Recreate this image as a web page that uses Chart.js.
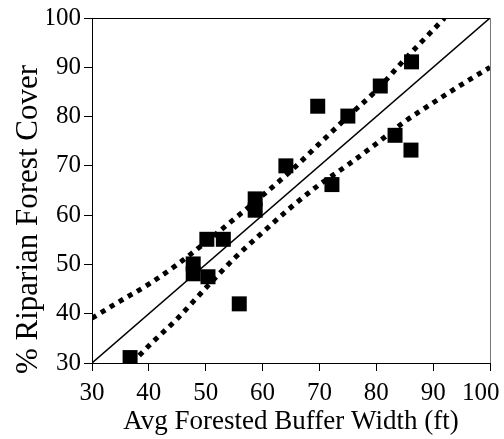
<!DOCTYPE html>
<html>
<head>
<meta charset="utf-8">
<script src="https://cdn.jsdelivr.net/npm/chart.js@4.4.1/dist/chart.umd.min.js"></script>
<style>
  html, body { margin: 0; padding: 0; background: #fff; }
</style>
</head>
<body>
<canvas id="chartBuffer" width="504" height="439"></canvas>
<script>
// datos
const bufferWidth = [36.7, 47.8, 47.8, 50.2, 50.4, 53.1, 55.9, 58.7, 58.7, 64.1, 69.7, 72.2, 75.0, 80.7, 83.3, 86.1, 86.2];
const forestCover = [31.1, 50.1, 48.1, 55.1, 47.5, 55.1, 42.0, 61.0, 63.3, 70.0, 82.1, 66.2, 80.1, 86.2, 76.2, 73.2, 91.1];

// linea 1:1
const lineX = [30, 100];
const lineY = [30, 100];

// bandas punteadas
const upperX = [30, 35, 40, 45, 50, 55, 60, 65, 70, 75, 80, 85, 90, 92];
const upperY = [39.1, 42.6, 46.0, 50.0, 54.5, 59.2, 64.0, 69.0, 74.5, 80.0, 85.3, 91.6, 97.6, 100];
const lowerX = [37, 40, 45, 50, 55, 60, 65, 70, 75, 80, 85, 90, 95, 100];
const lowerY = [30.0, 33.5, 39.0, 45.2, 51.2, 56.5, 61.6, 66.2, 70.2, 74.5, 79.0, 82.8, 86.5, 90.0];

const axisTicks = [30, 40, 50, 60, 70, 80, 90, 100];

const serif = "'Liberation Serif', 'Times New Roman', serif";
const fuenteTicks = { family: serif, size: 25, weight: 'normal' };

function puntos(xs, ys) {
  return xs.map((x, i) => ({ x: x, y: ys[i] }));
}

const marco = {
  id: 'marco',
  beforeDatasetsDraw(chart) {
    const { ctx, chartArea: a } = chart;
    ctx.save();
    ctx.lineWidth = 1;
    ctx.strokeStyle = '#000';
    ctx.beginPath();
    ctx.moveTo(a.left, a.top + 0.5);
    ctx.lineTo(a.right, a.top + 0.5);
    ctx.stroke();
    ctx.strokeStyle = '#777';
    ctx.beginPath();
    ctx.moveTo(a.right + 0.5, a.top);
    ctx.lineTo(a.right + 0.5, a.bottom);
    ctx.stroke();
    ctx.restore();
  }
};

const ctx = document.getElementById('chartBuffer');

new Chart(ctx, {
  type: 'scatter',
  data: {
    datasets: [{
      label: 'Sitios',
      data: puntos(bufferWidth, forestCover),
      pointStyle: 'rect',
      pointRadius: 10.6,
      pointBackgroundColor: '#000',
      pointBorderColor: '#000',
      pointBorderWidth: 0,
      order: 0
    }, {
      label: '1:1',
      data: puntos(lineX, lineY),
      showLine: true,
      borderColor: '#000',
      borderWidth: 1.5,
      pointRadius: 0,
      order: 3
    }, {
      label: 'Superior',
      data: puntos(upperX, upperY),
      showLine: true,
      borderColor: '#000',
      borderWidth: 5,
      borderDash: [5, 5.5],
      borderCapStyle: 'butt',
      cubicInterpolationMode: 'monotone',
      pointRadius: 0,
      order: 1
    }, {
      label: 'Inferior',
      data: puntos(lowerX, lowerY),
      showLine: true,
      borderColor: '#000',
      borderWidth: 5,
      borderDash: [5, 5.5],
      borderCapStyle: 'butt',
      cubicInterpolationMode: 'monotone',
      pointRadius: 0,
      order: 2
    }]
  },
  options: {
    responsive: false,
    animation: false,
    layout: { padding: { top: 0, right: 14, left: 0, bottom: 0 } },
    plugins: {
      legend: { display: false },
      tooltip: { enabled: false },
      title: {
        display: true,
        position: 'left',
        text: '% Riparian Forest Cover',
        color: '#000',
        font: { family: serif, size: 31, weight: 'normal' },
        padding: { top: 10, bottom: 0 }
      }
    },
    scales: {
      x: {
        type: 'linear',
        min: 30,
        max: 100,
        afterBuildTicks: (s) => { s.ticks = axisTicks.map(v => ({ value: v })); },
        ticks: {
          color: '#000',
          font: fuenteTicks,
          padding: 7,
          autoSkip: false,
          maxRotation: 0,
          callback: (v) => v === 100 ? '100   ' : String(v)
        },
        grid: { drawOnChartArea: false, color: '#000', tickLength: 8 },
        border: { color: '#000', width: 1 },
        title: {
          display: true,
          text: 'Avg Forested Buffer Width (ft)',
          color: '#000',
          font: { family: serif, size: 27, weight: 'normal' },
          padding: { top: 0, bottom: 1 }
        },
        afterFit: (s) => { s.height = 76; s.paddingLeft = 0; s.paddingRight = 0; }
      },
      y: {
        type: 'linear',
        min: 30,
        max: 100,
        afterBuildTicks: (s) => { s.ticks = axisTicks.map(v => ({ value: v })); },
        ticks: { color: '#000', font: fuenteTicks, padding: 3, autoSkip: false },
        grid: { drawOnChartArea: false, color: '#000', tickLength: 8 },
        border: { color: '#000', width: 1 },
        afterFit: (s) => { s.width = 44.8; s.paddingTop = 18; s.paddingBottom = 0; }
      }
    }
  },
  plugins: [marco]
});
</script>
</body>
</html>
